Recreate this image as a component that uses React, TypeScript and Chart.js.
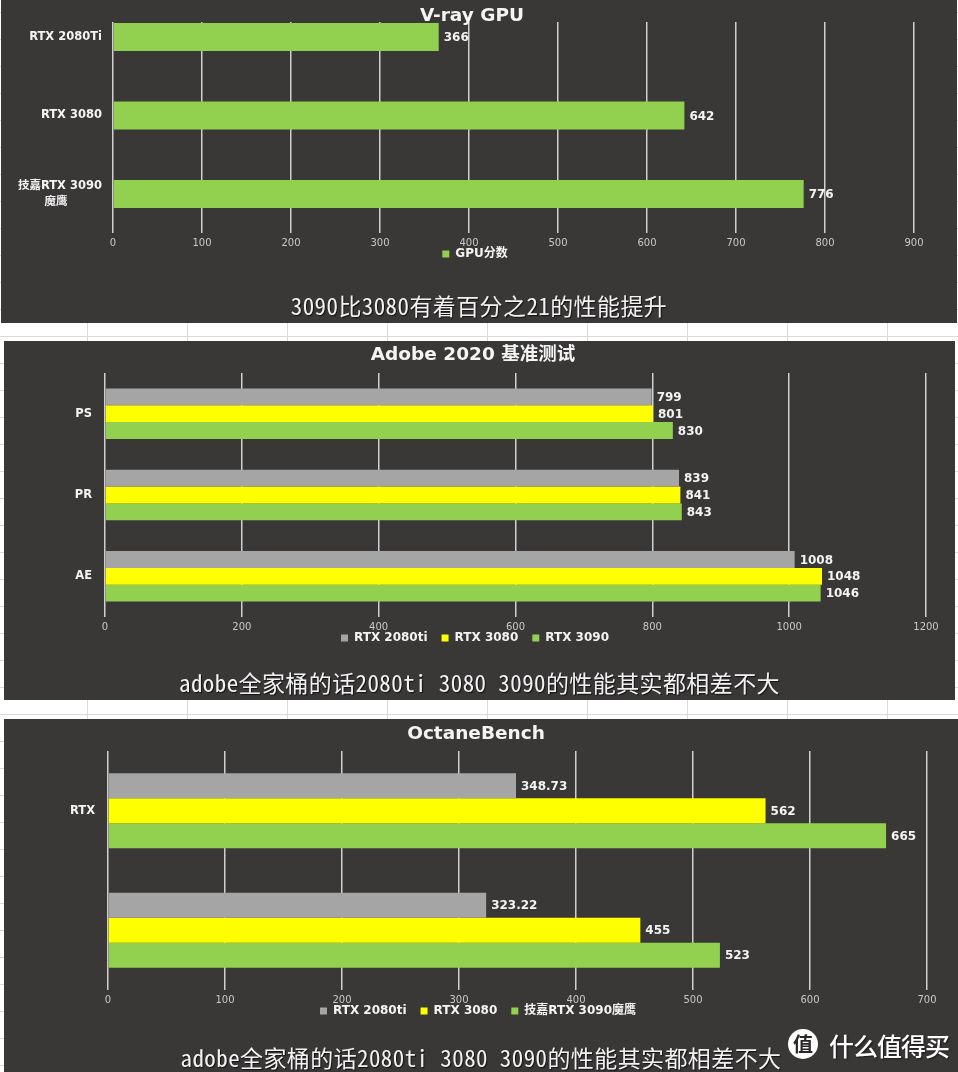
import React, { useEffect, useRef } from 'react';
import { Chart, registerables } from 'chart.js';

Chart.register(...registerables);

// ---------- data ----------
const vrayTitle = 'V-ray GPU';
const vrayCategories: (string | string[])[] = ['RTX 2080Ti', 'RTX 3080', ['技嘉RTX 3090', '魔鹰\u3000\u3000\u3000']];
const vraySeriesName = 'GPU分数';
const vrayValues = [366, 642, 776];
const vrayAxisMax = 900;
const vrayAxisStep = 100;
const vrayCaption = '3090比3080有着百分之21的性能提升';

const adobeTitle = 'Adobe 2020 基准测试';
const adobeCategories = ['PS', 'PR', 'AE'];
const adobeSeriesNames = ['RTX 2080ti', 'RTX 3080', 'RTX 3090'];
const adobe2080ti = [799, 839, 1008];
const adobe3080 = [801, 841, 1048];
const adobe3090 = [830, 843, 1046];
const adobeAxisMax = 1200;
const adobeAxisStep = 200;
const adobeCaption = 'adobe全家桶的话2080ti 3080 3090的性能其实都相差不大';

const octaneTitle = 'OctaneBench';
const octaneCategories = ['RTX', ''];
const octaneSeriesNames = ['RTX 2080ti', 'RTX 3080', '技嘉RTX 3090魔鹰'];
const octane2080ti = [348.73, 323.22];
const octane3080 = [562, 455];
const octane3090 = [665, 523];
const octaneAxisMax = 700;
const octaneAxisStep = 100;
const octaneCaption = 'adobe全家桶的话2080ti 3080 3090的性能其实都相差不大';

const watermarkIcon = '值';
const watermarkText = '什么值得买';

// ---------- styles ----------
const FONT = '"DejaVu Sans", "Noto Sans CJK SC", sans-serif';
const CAPTION_FONT = '"Noto Sans Mono CJK SC", "Noto Sans CJK SC", monospace';
const BG = '#3a3737';
const GRID = '#cfcfcf';
const GRAY = '#a5a5a5';
const YELLOW = '#ffff00';
const GREEN = '#92d050';
const WHITE = '#f4f4f4';
const TICK = '#c8c8c8';

const valueLabels = {
  id: 'valueLabels',
  afterDatasetsDraw(chart: any) {
    const ctx = chart.ctx;
    ctx.save();
    ctx.font = `bold 12px ${FONT}`;
    ctx.fillStyle = WHITE;
    ctx.textAlign = 'left';
    ctx.textBaseline = 'middle';
    chart.data.datasets.forEach((ds: any, di: number) => {
      const meta = chart.getDatasetMeta(di);
      meta.data.forEach((el: any, i: number) => {
        const raw = ds.data[i];
        const v = typeof raw === 'object' ? raw.x : raw;
        ctx.fillText(String(v), el.x + 5, el.y + 1);
      });
    });
    ctx.restore();
  },
};

// re-centres title and legend horizontally, and lifts the legend just under the tick labels
function placeBoxes(titleCx: number, legendCx: number, legendGap: number) {
  return {
    id: 'placeBoxes',
    afterLayout(chart: any) {
      const t = chart.titleBlock;
      if (t) {
        const w = t.right - t.left;
        t.left = titleCx - w / 2;
        t.right = titleCx + w / 2;
      }
      const l = chart.legend;
      if (l) {
        const w = l.right - l.left;
        l.left = legendCx - w / 2;
        l.right = legendCx + w / 2;
        const h = l.bottom - l.top;
        l.top = chart.chartArea.bottom + legendGap;
        l.bottom = l.top + h;
      }
    },
  };
}

function baseOptions(o: {
  title: string;
  titlePad: { top: number; bottom: number };
  padRight: number;
  padBottom: number;
  yWidth: number;
  yPad: number;
  xMax: number;
  xStep: number;
  yScale: any;
}) {
  return {
    indexAxis: 'y',
    responsive: false,
    animation: false,
    devicePixelRatio: 1,
    layout: { padding: { left: 0, right: o.padRight, top: 0, bottom: o.padBottom } },
    plugins: {
      title: {
        display: true,
        text: o.title,
        color: WHITE,
        font: { family: FONT, size: 18.5, weight: 'bold', lineHeight: '17px' },
        padding: o.titlePad,
      },
      legend: {
        display: true,
        position: 'bottom',
        labels: {
          color: WHITE,
          font: { family: FONT, size: 12, weight: 'bold' },
          boxWidth: 7,
          boxHeight: 7,
          padding: 14,
        },
      },
      tooltip: { enabled: false },
    },
    scales: {
      x: {
        type: 'linear',
        min: 0,
        max: o.xMax,
        ticks: {
          stepSize: o.xStep,
          color: TICK,
          font: { family: FONT, size: 10 },
          padding: 4,
          maxRotation: 0,
          autoSkip: false,
          callback: (v: number) => String(v),
        },
        grid: { color: GRID, lineWidth: 1.5, drawTicks: false },
        border: { display: false },
        afterFit: (s: any) => {
          s.height = 16;
        },
      },
      y: {
        ...o.yScale,
        grid: { display: false, drawTicks: false },
        border: { display: false },
        ticks: {
          ...(o.yScale.ticks || {}),
          color: WHITE,
          padding: o.yPad,
          font: { family: FONT, size: 11.5, weight: 'bold', lineHeight: 1.35 },
        },
        afterFit: (s: any) => {
          s.width = o.yWidth;
        },
      },
    },
  };
}

function vrayConfig() {
  return {
    type: 'bar',
    data: {
      datasets: [
        {
          label: vraySeriesName,
          data: vrayValues.map((v, i) => ({ x: v, y: i })),
          backgroundColor: GREEN,
          borderWidth: 0,
          categoryPercentage: 0.357,
          barPercentage: 1,
        },
      ],
    },
    options: baseOptions({
      title: vrayTitle,
      titlePad: { top: 7.5, bottom: -2.5 },
      padRight: 43,
      padBottom: 38,
      yWidth: 112,
      yPad: 11,
      xMax: vrayAxisMax,
      xStep: vrayAxisStep,
      yScale: {
        type: 'linear',
        reverse: true,
        offset: false,
        min: -0.19,
        max: 2.497,
        ticks: {
          stepSize: 1,
          includeBounds: false,
          callback: (v: number) => (Number.isInteger(v) ? vrayCategories[v] : ''),
        },
      },
    }),
    plugins: [valueLabels, placeBoxes(471, 474, 1)],
  };
}

function groupedConfig(g: {
  title: string;
  categories: string[];
  names: string[];
  series: number[][];
  catPct: number;
  titlePad: { top: number; bottom: number };
  padRight: number;
  padBottom: number;
  yWidth: number;
  xMax: number;
  xStep: number;
  titleCx: number;
  legendCx: number;
}) {
  const colors = [GRAY, YELLOW, GREEN];
  return {
    type: 'bar',
    data: {
      labels: g.categories,
      datasets: g.series.map((s, i) => ({
        label: g.names[i],
        data: s,
        backgroundColor: colors[i],
        borderWidth: 0,
        categoryPercentage: g.catPct,
        barPercentage: 1,
      })),
    },
    options: baseOptions({
      title: g.title,
      titlePad: g.titlePad,
      padRight: g.padRight,
      padBottom: g.padBottom,
      yWidth: g.yWidth,
      yPad: 13,
      xMax: g.xMax,
      xStep: g.xStep,
      yScale: { type: 'category' },
    }),
    plugins: [valueLabels, placeBoxes(g.titleCx, g.legendCx, 1)],
  };
}

type PanelSpec = {
  left: number;
  top: number;
  width: number;
  height: number;
  captionY: number;
  caption: string;
  makeConfig: () => any;
};

function Panel({ spec }: { spec: PanelSpec }) {
  const ref = useRef<HTMLCanvasElement>(null);
  useEffect(() => {
    const chart = new Chart(ref.current as HTMLCanvasElement, spec.makeConfig());
    return () => chart.destroy();
  }, []);
  return (
    <div
      style={{
        position: 'absolute',
        left: spec.left,
        top: spec.top,
        width: spec.width,
        height: spec.height,
        background: BG,
        overflow: 'hidden',
      }}
    >
      <canvas
        ref={ref}
        width={spec.width}
        height={spec.height}
        style={{ display: 'block', width: spec.width, height: spec.height }}
      />
      <div
        style={{
          position: 'absolute',
          left: 0,
          width: '100%',
          top: spec.captionY - 15,
          height: 30,
          lineHeight: '30px',
          textAlign: 'center',
          fontFamily: CAPTION_FONT,
          fontSize: 23,
          letterSpacing: '0.4px',
          color: '#f2f2f2',
          whiteSpace: 'pre',
          textShadow: '1px 1px 1px rgba(0,0,0,0.7)',
        }}
      >
        {spec.caption}
      </div>
    </div>
  );
}

const panels: PanelSpec[] = [
  {
    left: 1,
    top: 0,
    width: 956,
    height: 323,
    captionY: 305,
    caption: vrayCaption,
    makeConfig: vrayConfig,
  },
  {
    left: 4,
    top: 341,
    width: 951,
    height: 359,
    captionY: 341,
    caption: adobeCaption,
    makeConfig: () =>
      groupedConfig({
        title: adobeTitle,
        categories: adobeCategories,
        names: adobeSeriesNames,
        series: [adobe2080ti, adobe3080, adobe3090],
        catPct: 0.62,
        titlePad: { top: 5.5, bottom: 9.5 },
        padRight: 29,
        padBottom: 31,
        yWidth: 101,
        xMax: adobeAxisMax,
        xStep: adobeAxisStep,
        titleCx: 469,
        legendCx: 471,
      }),
  },
  {
    left: 4,
    top: 719,
    width: 954,
    height: 353,
    captionY: 338,
    caption: octaneCaption,
    makeConfig: () =>
      groupedConfig({
        title: octaneTitle,
        categories: octaneCategories,
        names: octaneSeriesNames,
        series: [octane2080ti, octane3080, octane3090],
        catPct: 0.627,
        titlePad: { top: 6.5, bottom: 8.5 },
        padRight: 31,
        padBottom: 30,
        yWidth: 104,
        xMax: octaneAxisMax,
        xStep: octaneAxisStep,
        titleCx: 472,
        legendCx: 474,
      }),
  },
];

export default function App() {
  return (
    <div
      style={{
        position: 'absolute',
        left: 0,
        top: 0,
        width: 958,
        height: 1072,
        overflow: 'hidden',
        backgroundColor: '#ffffff',
        backgroundImage:
          'linear-gradient(to right, #dadada 1px, transparent 1px), linear-gradient(to bottom, #dadada 1px, transparent 1px)',
        backgroundSize: '100px 100%, 100% 27px',
        backgroundPosition: '87px 0, 0 12px',
      }}
    >
      {panels.map((p, i) => (
        <Panel key={i} spec={p} />
      ))}
      <div
        style={{
          position: 'absolute',
          left: 788,
          top: 1029,
          width: 30,
          height: 30,
          borderRadius: 15,
          background: '#ffffff',
          color: '#2a2727',
          fontFamily: '"Noto Sans CJK SC", sans-serif',
          fontWeight: 'bold',
          fontSize: 20,
          lineHeight: '30px',
          textAlign: 'center',
        }}
      >
        {watermarkIcon}
      </div>
      <div
        style={{
          position: 'absolute',
          left: 829,
          top: 1028,
          height: 34,
          lineHeight: '34px',
          fontFamily: '"Noto Sans CJK SC", sans-serif',
          fontSize: 25,
          fontWeight: 500,
          color: '#ffffff',
          letterSpacing: '-1px',
          textShadow: '1px 1px 2px rgba(0,0,0,0.6)',
          whiteSpace: 'pre',
        }}
      >
        {watermarkText}
      </div>
    </div>
  );
}
